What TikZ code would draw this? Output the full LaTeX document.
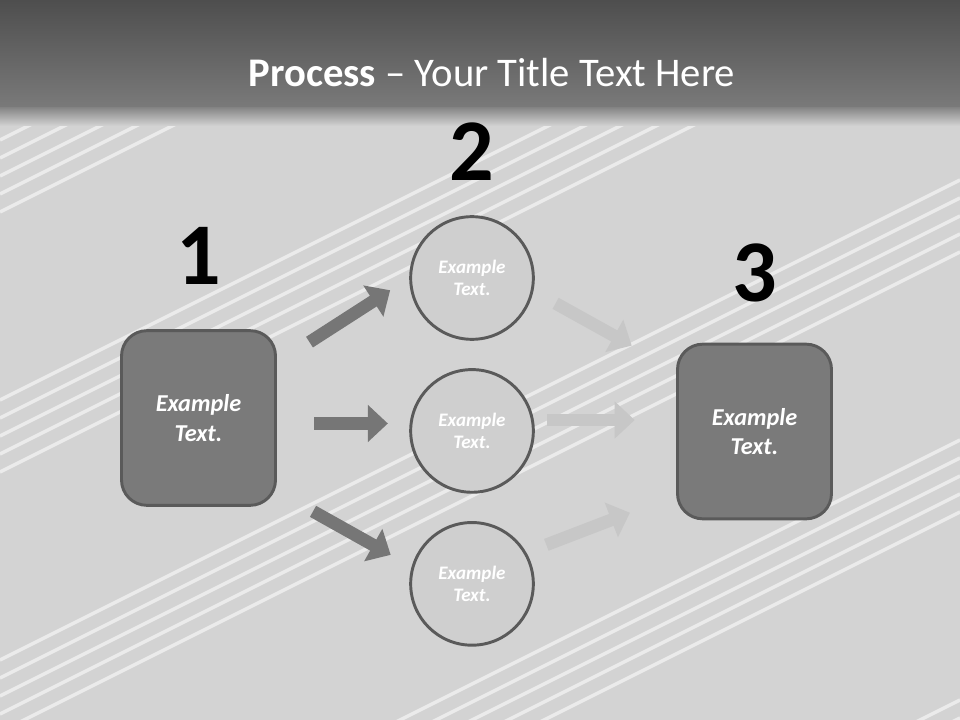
\documentclass[tikz,border=0pt]{standalone}
\usepackage{fontspec}
\setmainfont{Carlito}
\usetikzlibrary{positioning,arrows.meta,calc}
\definecolor{SlideBg}{RGB}{211,211,211}
\definecolor{BarTop}{RGB}{78,78,78}
\definecolor{BarBottom}{RGB}{122,122,122}
\definecolor{BoxFill}{RGB}{122,122,122}
\definecolor{EdgeGray}{RGB}{90,90,90}
\definecolor{CircleFill}{RGB}{207,207,207}
\definecolor{ArrowGray}{RGB}{118,118,118}
\definecolor{GhostGray}{RGB}{199,199,199}
\tikzset{
  stepsquare/.style={draw=EdgeGray,fill=BoxFill,line width=2.2pt,rounded corners=19pt,
    minimum width=115.5pt,minimum height=131pt,align=center,text=white,
    font=\fontsize{18.2}{22}\selectfont\bfseries\itshape},
  stepcircle/.style={circle,draw=EdgeGray,fill=CircleFill,line width=2.2pt,
    minimum size=92pt,align=center,text=white,
    font=\fontsize{14.3}{17}\selectfont\bfseries\itshape},
  stepnum/.style={inner sep=0pt,font=\fontsize{66}{66}\selectfont\bfseries},
  blockarrow/.style={-{Triangle[length=15pt,width=27pt]},line width=9.5pt,draw=ArrowGray},
  ghostarrow/.style={blockarrow,draw=GhostGray},
  staffline/.style={draw=white,opacity=0.55,line width=2.6pt}
}
\begin{document}
\begin{tikzpicture}[x=0.75pt,y=-0.75pt]
  \useasboundingbox (0,0) rectangle (960,720);
  \fill[SlideBg] (0,0) rectangle (960,720);
  % staves in the background
  \begin{scope}
    \clip (0,108) rectangle (960,720);
    \foreach \c in {140,400,660,920,1180}
      \foreach \k in {0,...,4}
        \draw[staffline] (0,\c+\k*18) -- (960,\c+\k*18-480);
  \end{scope}
  \shade[top color=BarTop,bottom color=BarBottom] (0,0) rectangle (960,108);
  \shade[top color=BarBottom!85!SlideBg,bottom color=SlideBg] (0,108) rectangle (960,126);
  \node[anchor=base,text=white,font=\fontsize{30.5}{36}\selectfont] (title) at (492,87)
    {\textbf{Process} – Your Title Text Here};

  \node[stepsquare] (box1) at (198.5,418) {Example\\Text.};
  \node[stepcircle] (c1) at (472,278) {Example\\Text.};
  \node[stepcircle,below=20.5pt of c1] (c2) {Example\\Text.};
  \node[stepcircle,below=20.5pt of c2] (c3) {Example\\Text.};
  \node[stepsquare] (box3) at (754.5,431.5) {Example\\Text.};

  \node[stepnum,above=33pt of box1] (n1) {1};
  \node[stepnum,above=26pt of c1] (n2) {2};
  \node[stepnum,above=30pt of box3] (n3) {3};

  \draw[blockarrow,shorten <=29pt,shorten >=17pt] (box1.35) -- (c1.west);
  \draw[blockarrow,shorten <=28pt,shorten >=16pt] (box1.-4) -- (box1.-4 -| c2.west);
  \draw[blockarrow,shorten <=31pt,shorten >=18pt] (box1.-43) -- (c3.164);
  \draw[ghostarrow,shorten <=19pt,shorten >=38pt] (c1.-12) -- (box3.142);
  \draw[ghostarrow,shorten <=10pt,shorten >=31pt] (c2.10) -- (c2.10 -| box3.west);
  \draw[ghostarrow,shorten <=16pt,shorten >=37pt] (c3.30) -- (box3.219);
\end{tikzpicture}
\end{document}
